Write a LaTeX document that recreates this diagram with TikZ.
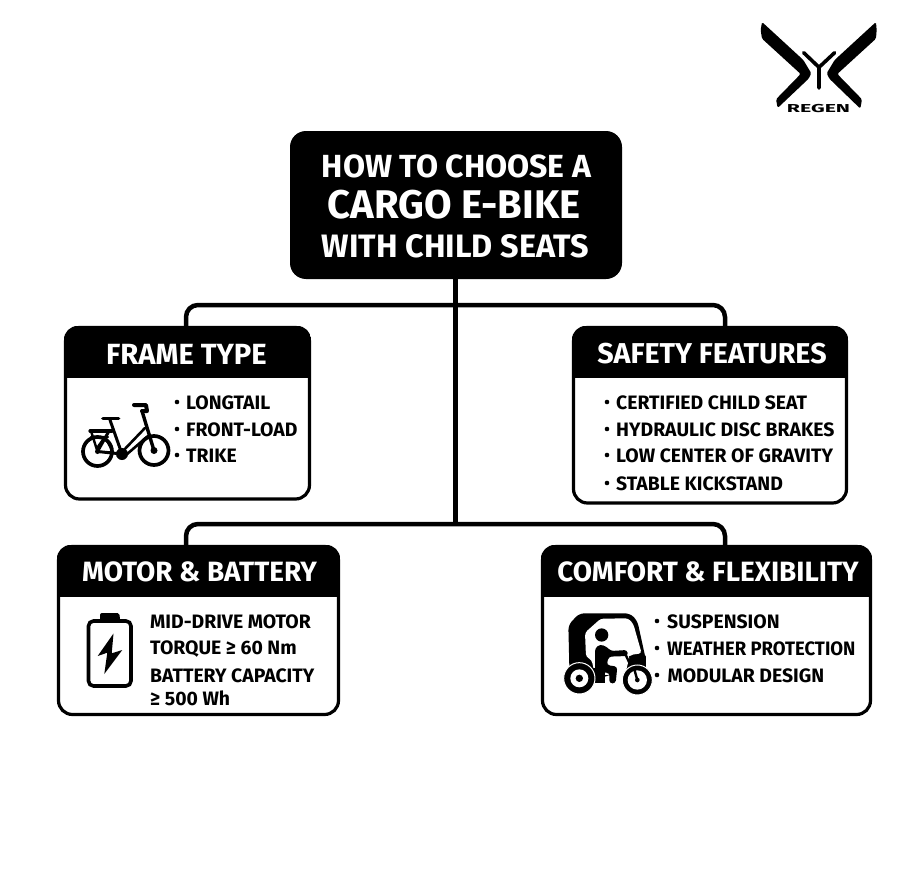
\documentclass[tikz,border=0pt]{standalone}
\usepackage{fontspec}
\setmainfont{Fira Sans}
\usetikzlibrary{calc}
\tikzset{
  headtext/.style={text=white,font=\bfseries\fontsize{#1}{#1}\selectfont,anchor=center,inner sep=0pt},
  titletext/.style={text=white,font=\bfseries\fontsize{#1}{#1}\selectfont,anchor=center,inner sep=0pt},
  item/.style={anchor=west,text=black,font=\bfseries\fontsize{19.4}{19.4}\selectfont,inner sep=0pt,yshift=-0.7pt},
  bus/.style={draw=black,line width=4.5pt,rounded corners=12pt},
  dot/.style={circle,fill=black,minimum size=4.6pt,inner sep=0pt}
}
\begin{document}
\begin{tikzpicture}[x=1pt,y=-1pt]
\useasboundingbox (0,0) rectangle (900,883);
\fill[white] (0,0) rectangle (900,883);

% connectors (behind boxes)
\coordinate (j1) at (455,305);
\coordinate (j2) at (455,524);
\coordinate (f1) at (186,326);
\coordinate (s1) at (725,326);
\coordinate (m1) at (186,545);
\coordinate (c1) at (725,545);
\draw[bus] (f1) |- (j1) -| (s1);
\draw[bus] (m1) |- (j2) -| (c1);

% title
\node[fill=black,rounded corners=16pt,minimum width=332pt,minimum height=148pt,inner sep=0pt] (title) at (456,205) {};
\draw[draw=black,line width=5pt] (title.south -| j2) -- (j2);
\node[titletext=32] (t1) at (456.5,166) {HOW TO CHOOSE A};
\node[titletext=40] (t2) at (454,205) {CARGO E-BIKE};
\node[titletext=32.4] (t3) at (455.5,246) {WITH CHILD SEATS};

% cards: outer + header
\newcommand{\cardbox}[4]{%
  \draw[line width=3.2pt,fill=white,rounded corners=14pt] (#1,#2) rectangle (#3,#4);
  \begin{scope}
    \clip[rounded corners=14pt] (#1-1.6,#2-1.6) rectangle (#3+1.6,#4+1.6);
    \fill[black] (#1-1.6,#2-1.6) rectangle (#3+1.6,#2+50.5);
  \end{scope}
}
\cardbox{65.5}{327.5}{309.5}{499}
\cardbox{573.5}{327.5}{846.5}{503}
\cardbox{58.5}{546.5}{338.5}{714.5}
\cardbox{542.5}{546.5}{870.5}{714.5}

\node[headtext=29.2] (h1) at (186.5,354) {FRAME TYPE};
\node[headtext=28.7] (h2) at (712,354) {SAFETY FEATURES};
\node[headtext=27.9] (h3) at (199.5,572) {MOTOR \& BATTERY};
\node[headtext=27.9] (h4) at (708,572) {COMFORT \& FLEXIBILITY};

% items
\foreach \n/\y/\t in {a/402/LONGTAIL,b/429/FRONT-LOAD,c/455/TRIKE}{
  \node[dot] (fd\n) at (177,\y) {};
  \node[item] (fi\n) at (186,\y) {\t};
}
\foreach \n/\y/\t in {a/402/CERTIFIED CHILD SEAT,b/429/HYDRAULIC DISC BRAKES,c/455/LOW CENTER OF GRAVITY,d/483/STABLE KICKSTAND}{
  \node[dot] (sd\n) at (607,\y) {};
  \node[item] (si\n) at (616,\y) {\t};
}
\foreach \n/\y/\t in {a/621/MID-DRIVE MOTOR,b/648/TORQUE ≥ 60 Nm,c/675/BATTERY CAPACITY,d/698/≥ 500 Wh}{
  \node[item] (mi\n) at (150,\y) {\t};
}
\node[dot] (cda) at (657,621) {};
\node[item] (cia) at (667,621) {SUSPENSION};
\node[dot] (cdb) at (657,648) {};
\node[item] (cib) at (667,648) {\scalebox{0.955}[1]{WEATHER PROTECTION}};
\node[dot] (cdc) at (657,675) {};
\node[item] (cic) at (667.5,675) {MODULAR DESIGN};

% bicycle icon
\begin{scope}[line cap=round,line join=round,line width=3pt]
\draw[line width=3.7pt] (97.5,451.5) circle (14.5);
\draw[line width=3.7pt] (154,450.5) circle (14.5);
\fill (122,454) circle (6);
\fill (97.5,451.5) circle (2.5);
\fill (154,450.5) circle (3.5);
\draw (110,420) -- (122,454) -- (97.5,451.5) -- (109,431);
\draw[line width=3.8pt] (103,418.5) -- (118.5,418.5);
\draw[line width=4pt] (134,405) -- (146,405) -- (147,411) -- (142,411);
\draw[line width=3.4pt] (142,411) -- (154,450.5);
\draw[line width=2.6pt] (122,452) -- (145,428);
\draw[line width=2.6pt] (126,455) -- (148,436);
\draw[line width=3.2pt] (90,431) -- (112,431);
\draw[line width=2.4pt] (91,431) -- (97.5,451.5) (91,437) -- (108,437) (97,448) -- (105,437) -- (112,450);
\end{scope}

% battery icon
\draw[line width=3.6pt,rounded corners=5pt] (88.5,621) rectangle (131,686);
\fill[rounded corners=2pt] (100,613) -- (119.5,613) -- (120,621) -- (100,621) -- cycle;
\fill (113.5,633.5) -- (97.7,656) -- (107.3,652.7) -- (104.3,674) -- (122.3,650) -- (111.7,653.3) -- cycle;

% rickshaw icon
\begin{scope}[shift={(550,600)},x=0.3333pt,y=-0.3333pt]
\fill[rounded corners=5pt] (58,200) -- (55,75) -- (88,40) -- (240,40) -- (262,62) -- (290,190) -- (270,205) -- (240,205) -- (135,240) -- (58,240) -- cycle;
\fill[white,rounded corners=3pt] (105,98) -- (152,56) -- (235,55) -- (250,72) -- (275,160) -- (240,165) -- (225,225) -- (135,225) -- (125,180) -- (108,170) -- cycle;
\fill (155,105) circle (20);
\fill[rounded corners=3pt] (135,145) -- (150,133) -- (170,140) -- (182,153) -- (232,150) -- (234,168) -- (176,170) -- (170,195) -- (202,200) -- (197,250) -- (178,250) -- (178,218) -- (135,218) -- cycle;
\draw[line width=2.4pt] (225,160) -- (262,240);
\fill[rounded corners=2pt] (234,168) -- (288,165) -- (288,205) -- (255,195) -- cycle;
\fill (125,205) rectangle (165,248);
\draw[white,line width=1pt,fill=black] (88,235) circle (47);
\fill[white] (88,235) circle (27);
\fill (88,235) circle (11);
\draw[white,line width=1pt,fill=black] (262,240) circle (45);
\fill[white] (262,240) circle (29);
\fill (262,240) circle (7);
\draw[line width=2.4pt] (262,240) -- (252,205);
\end{scope}

% logo
\begin{scope}[shift={(740,10)},x=0.3333pt,y=-0.3333pt]
\fill[rounded corners=1.5pt] (66,36) -- (190,150) -- (214,190) -- (206,206) -- (113,294) -- (108,268) -- (182,192) -- (66,86) -- (62,60) -- cycle;
\fill[rounded corners=1.5pt] (408,36) -- (284,150) -- (260,190) -- (268,206) -- (361,296) -- (366,268) -- (292,192) -- (408,86) -- (410,60) -- cycle;
\draw[line width=3.6pt,line cap=round,line join=round] (191,128) -- (237,172) -- (284,128) (237,172) -- (237,234);
\end{scope}
\node[inner sep=0pt,font=\fontsize{11.5}{11.5}\selectfont\bfseries] (logotext) at (818.5,108.7) {\scalebox{1.85}[1]{REGEN}};
\end{tikzpicture}
\end{document}
